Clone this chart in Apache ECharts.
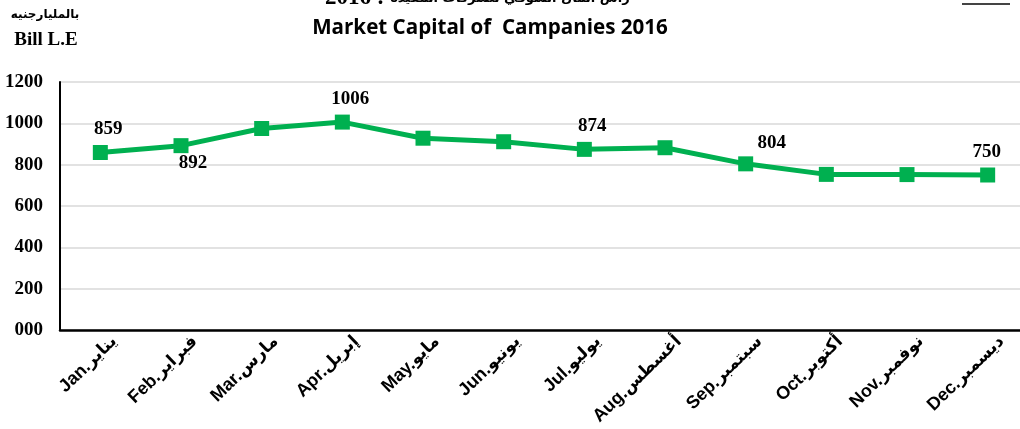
<!DOCTYPE html>
<html>
<head>
<meta charset="utf-8">
<script src="https://cdn.jsdelivr.net/npm/echarts@6/dist/echarts.min.js"></script>
<style>
  html, body { margin: 0; padding: 0; background: #fff; }
  #chart { width: 1020px; height: 429px; }
</style>
</head>
<body>
<div id="chart"></div>
<script>
const monthsEn = ['Jan.', 'Feb.', 'Mar.', 'Apr.', 'May.', 'Jun.', 'Jul.', 'Aug.', 'Sep.', 'Oct.', 'Nov.', 'Dec.'];
const monthsAr = ['يناير', 'فبراير', 'مارس', 'إبريل', 'مايو', 'يونيو', 'يوليو', 'أغسطس', 'سبتمبر', 'أكتوبر', 'نوفمبر', 'ديسمبر'];
const marketCap = [859, 892, 975, 1006, 928, 911, 874, 882, 804, 753, 752, 750];
const labelledMonths = [0, 1, 3, 6, 8, 11];
const yTicks = [0, 200, 400, 600, 800, 1000, 1200];

const chart = echarts.init(document.getElementById('chart'));

// where each shown value label sits relative to its point
const labelPlace = {
    1: { position: 'bottom', offset: [12, -6] },
    8: { position: 'top', offset: [26, 2] },
    11: { position: 'top', offset: [-1, 0] }
};

const seriesData = marketCap.map((v, i) => {
    if (!labelledMonths.includes(i)) return { value: v, label: { show: false } };
    const p = labelPlace[i] || { position: 'top', offset: [8, 0] };
    return { value: v, label: { show: true, position: p.position, offset: p.offset } };
});

const monthLabels = monthsEn.map((m, i) => m + '|' + monthsAr[i]);

const option = {
    animation: false,
    // second grid is only there to carry the month labels, nudged right like the original
    grid: [
        { left: 60, top: 82, width: 968, height: 248, outerBoundsMode: 'none' },
        { left: 74, top: 82, width: 968, height: 248, outerBoundsMode: 'none' }
    ],
    graphic: [
        {
            type: 'text', x: 325, y: -13,
            style: {
                text: '{d|2016 : }{ar|رأس المال السوقي للشركات المقيدة}',
                rich: {
                    d: { font: 'bold 23px "Liberation Serif"', fill: '#000' },
                    ar: { font: 'bold 13px "DejaVu Sans"', fill: '#000' }
                }
            }
        },
        {
            type: 'line', shape: { x1: 962, y1: 4, x2: 1010, y2: 4 },
            style: { stroke: '#444', lineWidth: 2 }
        },
        {
            type: 'text', x: 490, y: 28,
            style: { text: 'Market Capital of  Campanies 2016', font: 'bold 20.6px "Open Sans"', fill: '#000', align: 'center', verticalAlign: 'middle' }
        },
        {
            type: 'text', x: 45, y: 15,
            style: { text: 'بالمليارجنيه', font: 'bold 12px "DejaVu Sans"', fill: '#000', align: 'center', verticalAlign: 'middle' }
        },
        {
            type: 'text', x: 46, y: 40,
            style: { text: 'Bill L.E', font: 'bold 19px "Liberation Serif"', fill: '#000', align: 'center', verticalAlign: 'middle' }
        }
    ],
    xAxis: [
        {
            type: 'category',
            gridIndex: 0,
            data: monthLabels,
            boundaryGap: true,
            axisLine: { lineStyle: { color: '#000', width: 2.5 } },
            axisTick: { show: false },
            axisLabel: { show: false }
        },
        {
            type: 'category',
            gridIndex: 1,
            data: monthLabels,
            boundaryGap: true,
            axisLine: { show: false },
            axisTick: { show: false },
            axisLabel: {
                rotate: 44,
                margin: 9,
                interval: 0,
                formatter: (val) => {
                    const parts = val.split('|');
                    return '{en|' + parts[0] + '}{ar|' + parts[1] + '}';
                },
                rich: {
                    en: { fontFamily: 'Liberation Sans', fontWeight: 'bold', fontSize: 18, color: '#000' },
                    ar: { fontFamily: 'DejaVu Sans', fontWeight: 'bold', fontSize: 17, color: '#000' }
                }
            }
        }
    ],
    yAxis: [
        {
            type: 'value',
            gridIndex: 0,
            min: yTicks[0],
            max: yTicks[yTicks.length - 1],
            interval: yTicks[1] - yTicks[0],
            axisLine: { show: true, lineStyle: { color: '#000', width: 2 } },
            axisTick: { show: false },
            splitLine: { lineStyle: { color: '#d9d9d9', width: 1.5 } },
            axisLabel: {
                margin: 17,
                color: '#000',
                fontFamily: 'Liberation Serif',
                fontWeight: 'bold',
                fontSize: 19,
                formatter: (v) => String(v).padStart(3, '0')
            }
        },
        { type: 'value', gridIndex: 1, show: false }
    ],
    series: [{
        type: 'line',
        xAxisIndex: 0,
        yAxisIndex: 0,
        data: seriesData,
        symbol: 'rect',
        symbolSize: 15,
        lineStyle: { color: '#00B050', width: 5 },
        itemStyle: { color: '#00B050' },
        label: {
            distance: 6,
            color: '#000',
            fontFamily: 'Liberation Serif',
            fontWeight: 'bold',
            fontSize: 19
        }
    }]
};

chart.setOption(option);
</script>
</body>
</html>
